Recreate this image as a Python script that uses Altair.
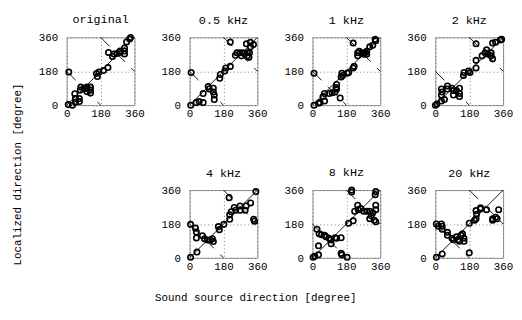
import altair as alt
import pandas as pd

titles = ["original", "0.5 kHz", "1 kHz", "2 kHz", "4 kHz", "8 kHz", "20 kHz"]

x_orig = [8, 30, 46, 67, 67, 46, 43, 72, 75, 91, 107, 107, 107, 126, 126, 126, 11, 163, 158, 171, 195, 219,
          222, 243, 251, 267, 280, 283, 307, 307, 307, 318, 334, 339]
y_orig = [3, 0, 16, 19, 35, 35, 61, 80, 96, 88, 88, 72, 96, 96, 80, 64, 176, 152, 168, 176, 184, 200,
          280, 259, 272, 275, 280, 288, 288, 272, 304, 336, 352, 360]

x_05 = [6, 35, 51, 72, 72, 99, 104, 126, 126, 131, 131, 8, 160, 163, 187, 192, 216, 216, 243, 251, 267, 275,
        283, 307, 307, 302, 323, 339, 323, 318, 315]
y_05 = [0, 14, 19, 14, 62, 99, 86, 90, 70, 54, 30, 174, 143, 163, 182, 198, 206, 335, 265, 278, 278, 262,
        278, 278, 262, 326, 334, 322, 310, 278, 254]

x_1k = [8, 32, 40, 64, 56, 64, 88, 104, 120, 125, 128, 128, 147, 8, 152, 156, 160, 184, 192, 216, 221, 216,
        240, 240, 248, 264, 272, 280, 288, 288, 304, 320, 333, 336]
y_1k = [0, 10, 14, 22, 46, 62, 62, 66, 70, 94, 110, 86, 38, 170, 150, 170, 158, 170, 174, 198, 206, 330,
        262, 278, 286, 278, 270, 278, 270, 286, 310, 318, 350, 342]

x_2k = [0, 8, 32, 48, 32, 36, 32, 64, 64, 88, 96, 96, 112, 128, 128, 128, 149, 152, 176, 184, 216, 216, 216,
        248, 264, 272, 280, 296, 296, 304, 304, 320, 345, 352]
y_2k = [0, 6, 22, 30, 54, 70, 86, 86, 102, 90, 78, 54, 78, 90, 62, 46, 158, 174, 182, 174, 198, 238, 326,
        262, 278, 294, 270, 278, 262, 246, 330, 334, 346, 350]

x_4k = [5, 39, 5, 31, 36, 36, 68, 79, 95, 110, 121, 126, 153, 158, 182, 210, 213, 213, 221, 237, 245, 268,
        268, 295, 300, 324, 340, 345, 352]
y_4k = [3, 31, 178, 158, 137, 106, 118, 102, 95, 95, 102, 87, 166, 150, 178, 320, 229, 205, 245, 268, 253,
        276, 253, 253, 276, 292, 205, 195, 352]

x_8k = [3, 12, 32, 32, 24, 35, 48, 64, 72, 88, 96, 99, 120, 128, 152, 152, 156, 184, 192, 216, 208, 208,
        240, 243, 256, 272, 288, 304, 320, 336, 336, 336, 333, 304, 328, 336, 312, 224]
y_8k = [3, 8, 16, 64, 152, 128, 123, 120, 112, 104, 96, 75, 107, 104, 107, 24, 16, 3, 184, 197, 350, 360,
        280, 256, 262, 248, 248, 248, 240, 280, 256, 352, 336, 208, 200, 192, 224, 248]

x_20k = [5, 36, 5, 32, 16, 36, 36, 64, 64, 88, 96, 112, 120, 136, 144, 152, 152, 128, 180, 180, 208, 216,
         219, 216, 240, 240, 272, 304, 304, 320, 328, 336]
y_20k = [3, 21, 180, 180, 168, 152, 168, 136, 120, 104, 96, 112, 96, 120, 128, 104, 88, 88, 27, 184, 200,
         208, 232, 251, 260, 266, 256, 208, 200, 216, 208, 256]

xs_all = [x_orig, x_05, x_1k, x_2k, x_4k, x_8k, x_20k]
ys_all = [y_orig, y_05, y_1k, y_2k, y_4k, y_8k, y_20k]

diag_x = [0, 360]
diag_y = [0, 360]
anti_seg = ["a", "a", "b", "b"]
anti_x = [0, 180, 180, 360]
anti_y = [180, 0, 360, 180]
tick_vals = [0, 180, 360]

MONO = "Liberation Mono"
W = 75
H = 75


def panel(title, xs, ys):
    rows = []
    for a, b in zip(xs, ys):
        rows.append({"x": a, "y": b, "kind": "pt", "seg": "p"})
    for a, b in zip(diag_x, diag_y):
        rows.append({"x": a, "y": b, "kind": "diag", "seg": "d"})
    for a, b, s in zip(anti_x, anti_y, anti_seg):
        rows.append({"x": a, "y": b, "kind": "anti", "seg": s})
    df = pd.DataFrame(rows)
    ax_x = alt.Axis(values=tick_vals, title=None, ticks=False, domain=False, grid=True,
                    gridDash=[1, 3], gridColor="#666", labelFlush=False, labelOverlap=False,
                    labelPadding=4, labelFont=MONO, labelFontSize=12, labelColor="black")
    ax_y = alt.Axis(values=tick_vals, title=None, ticks=False, domain=False, grid=True,
                    gridDash=[1, 3], gridColor="#666", labelOverlap=False, labelPadding=10,
                    labelFont=MONO, labelFontSize=12, labelColor="black")
    base = alt.Chart(df).encode(
        x=alt.X("x:Q", scale=alt.Scale(domain=[0, 360], nice=False, zero=False), axis=ax_x),
        y=alt.Y("y:Q", scale=alt.Scale(domain=[0, 360], nice=False, zero=False), axis=ax_y),
    )
    l_diag = base.transform_filter(alt.datum.kind == "diag").mark_line(color="black", strokeWidth=1)
    l_anti = base.transform_filter(alt.datum.kind == "anti").mark_line(
        color="black", strokeWidth=1, strokeDash=[14, 10]).encode(detail="seg:N")
    p = base.transform_filter(alt.datum.kind == "pt").mark_point(
        shape="circle", filled=False, size=36, strokeWidth=1.8, color="black", opacity=1)
    return alt.layer(l_diag, l_anti, p).properties(
        width=W, height=H,
        title=alt.TitleParams(title, font=MONO, fontSize=13, fontWeight="normal",
                              color="black", offset=6))


panels = [panel(t, x, y) for t, x, y in zip(titles, xs_all, ys_all)]

blank = alt.Chart(pd.DataFrame({"x": [0], "y": [0]})).mark_point(opacity=0).encode(
    x=alt.X("x:Q", axis=None), y=alt.Y("y:Q", axis=None)
).properties(width=W, height=H, view=alt.ViewBackground(stroke="transparent"))

cells = panels[:4] + [blank] + panels[4:]

grid = alt.concat(*cells, columns=4, spacing={"row": 51, "column": 16}).properties(
    title=alt.TitleParams("Sound source direction [degree]", orient="bottom", anchor="middle",
                          font=MONO, fontSize=12, fontWeight="normal", color="black", offset=23,
                          dx=-22))

chart = alt.hconcat(grid).properties(
    title=alt.TitleParams("Localized direction [degree]", orient="left", anchor="middle",
                          font=MONO, fontSize=12, fontWeight="normal", color="black", offset=15,
                          dx=-18),
    padding={"left": 4, "top": -11, "right": 0, "bottom": 0}
).configure_view(stroke="#888", strokeWidth=1)

chart.save("out.html", embed_options={"renderer": "svg", "actions": False})
